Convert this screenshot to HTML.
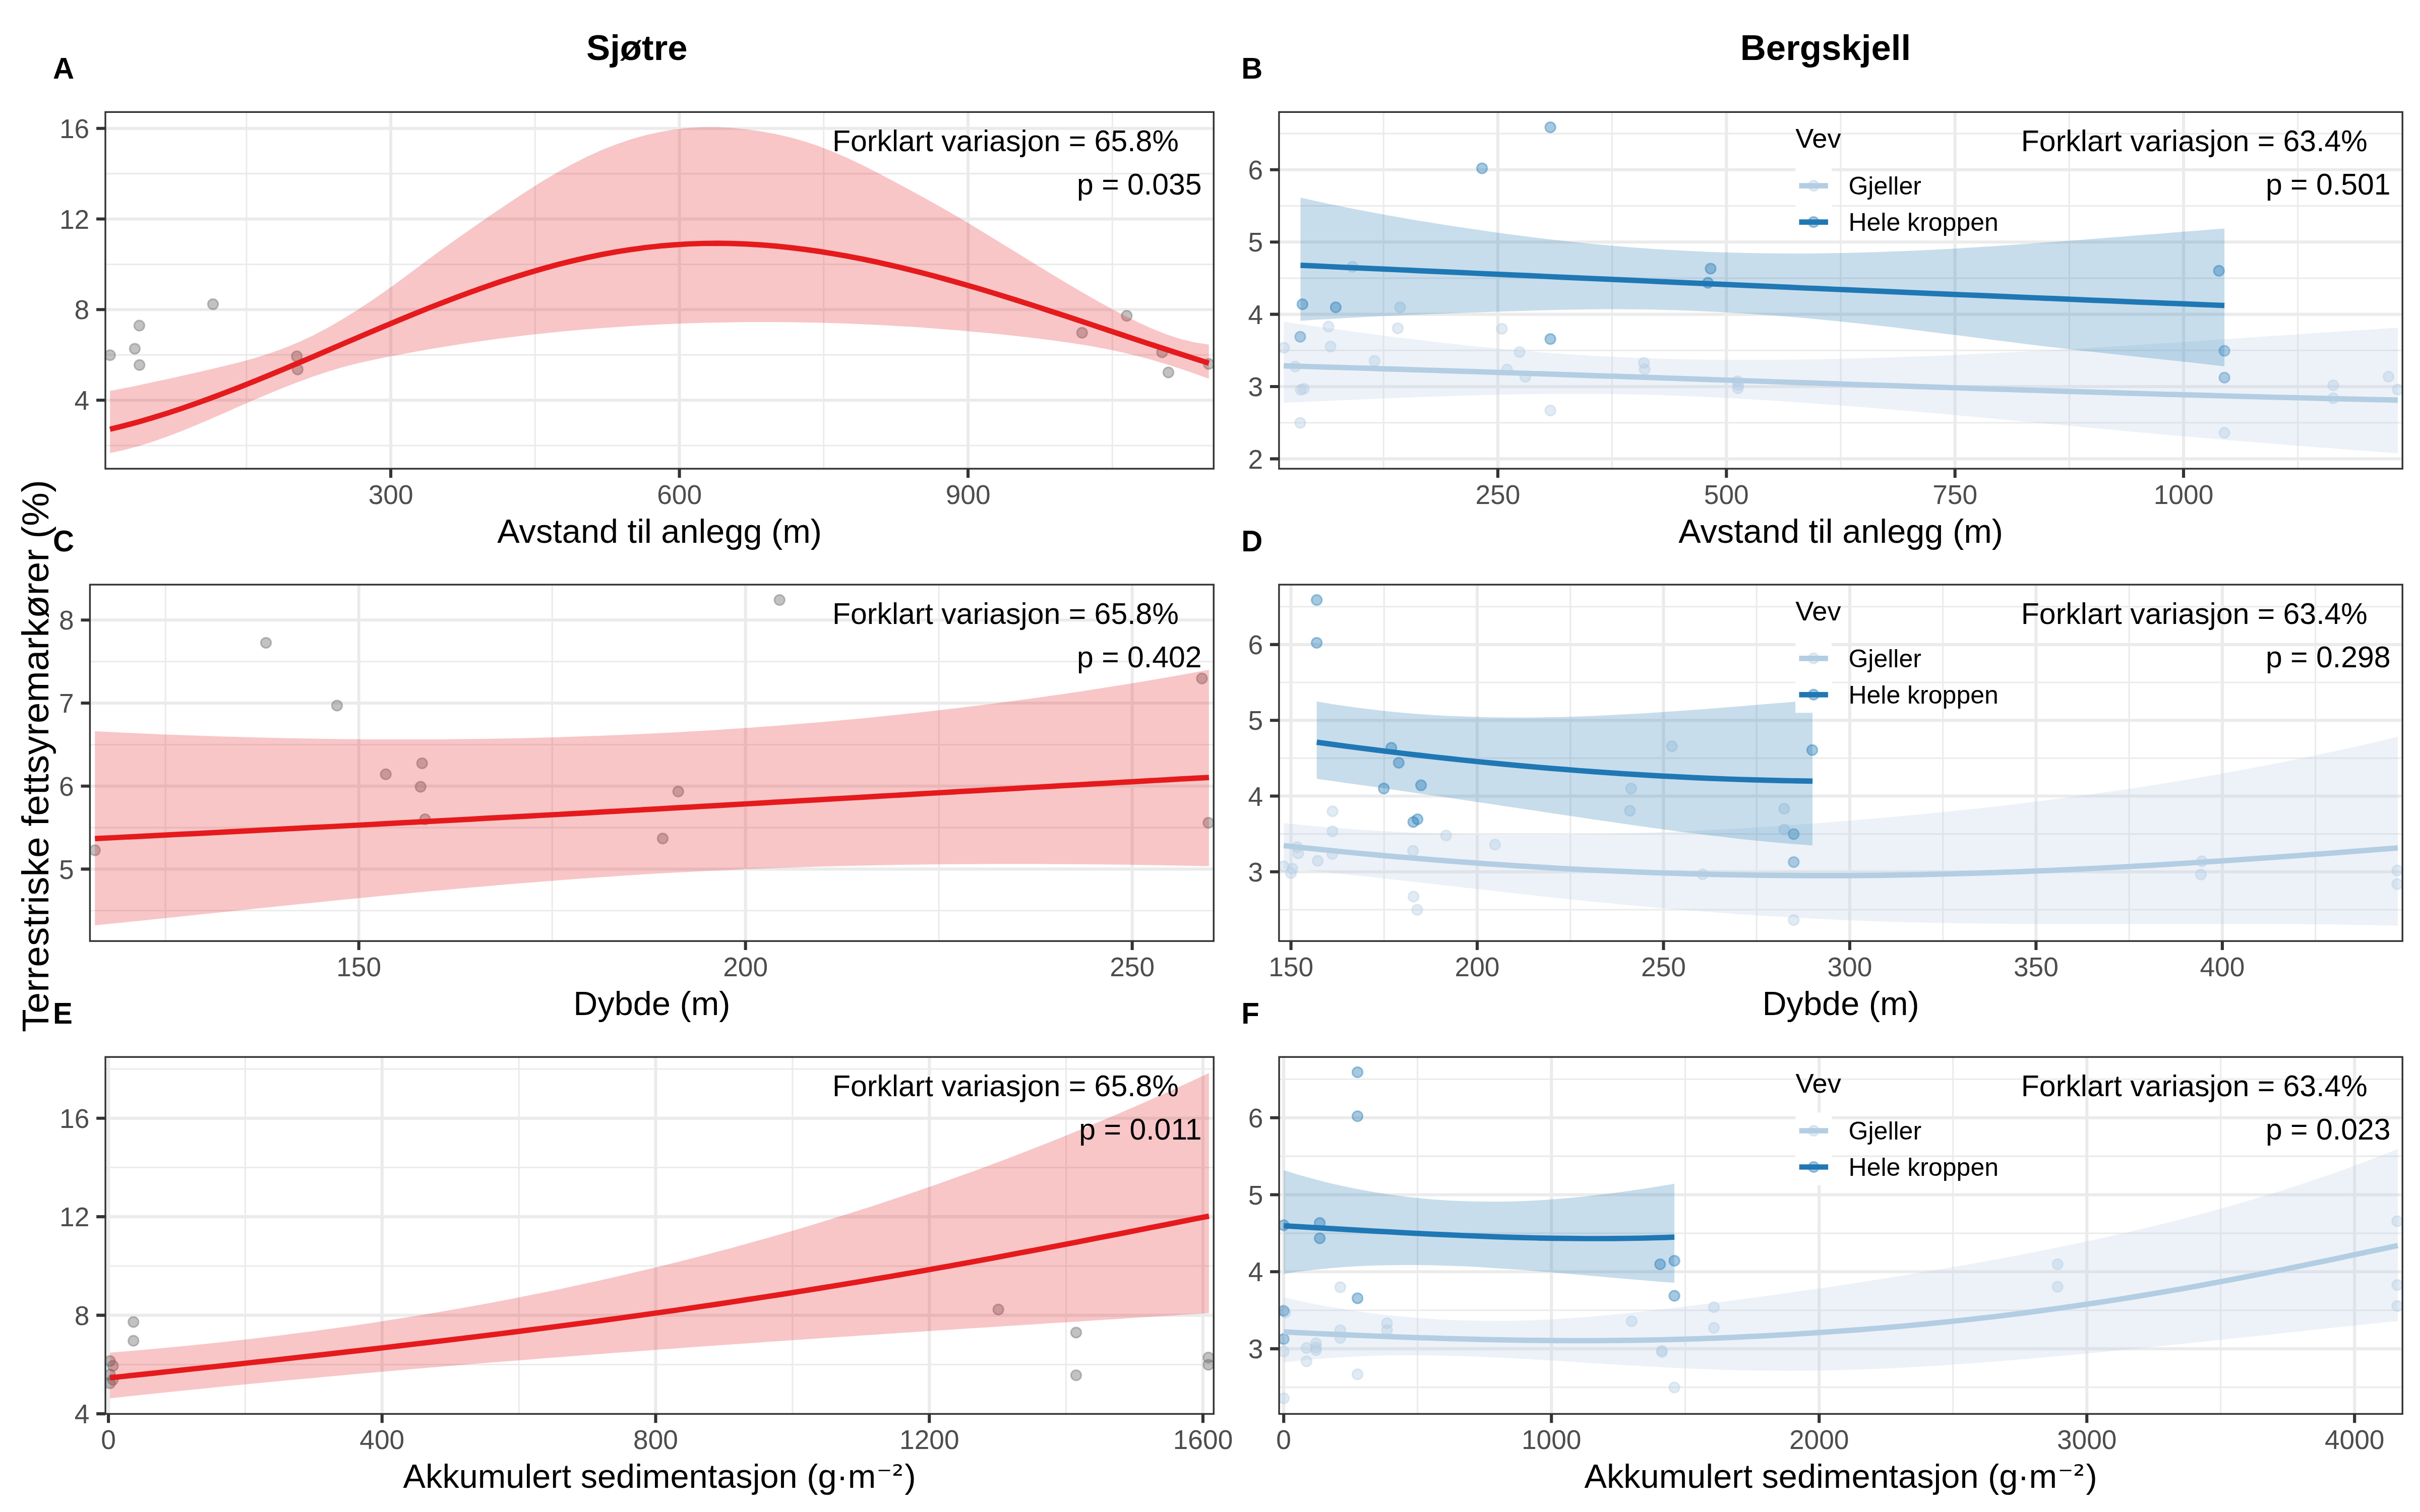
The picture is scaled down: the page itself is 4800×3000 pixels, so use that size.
<!DOCTYPE html>
<html lang="no"><head><meta charset="utf-8"><title>Terrestriske fettsyremarkører</title>
<style>html,body{margin:0;padding:0;background:#fff;width:4800px;height:3000px;overflow:hidden}svg{display:block}text{font-family:"Liberation Sans", sans-serif}
.tk{font-size:53.3px;fill:#4D4D4D}.ax{font-size:66.7px;fill:#000}.an{font-size:59.0px;fill:#000}.tg{font-size:58.3px;font-weight:bold;fill:#000}.ti{font-size:70.8px;font-weight:bold;fill:#000}.lt{font-size:54.2px;fill:#000}.le{font-size:50px;fill:#000}
</style></head><body>
<svg width="4800" height="3000" viewBox="0 0 4800 3000">
<rect width="4800" height="3000" fill="#fff"/>
<g id="panelA">
<clipPath id="cpA"><rect x="209" y="222.3" width="2198.3" height="707.7"/></clipPath>
<g clip-path="url(#cpA)">
<path d="M209 883.9H2407.3M209 704.1H2407.3M209 524.4H2407.3M209 344.6H2407.3M488.9 222.3V930M1061.3 222.3V930M1633.8 222.3V930M2206.3 222.3V930" stroke="#EBEBEB" stroke-width="3.05" fill="none"/>
<path d="M209 794H2407.3M209 614.2H2407.3M209 434.5H2407.3M209 254.7H2407.3M775.1 222.3V930M1347.6 222.3V930M1920.1 222.3V930" stroke="#EBEBEB" stroke-width="6.1" fill="none"/>
<g fill="#666666" stroke="#666666" fill-opacity="0.4" stroke-opacity="0.4" stroke-width="3.0">
<circle cx="218.2" cy="704.8" r="10.25"/><circle cx="267.4" cy="691.9" r="10.25"/><circle cx="276.4" cy="646" r="10.25"/><circle cx="276.7" cy="724.3" r="10.25"/><circle cx="422.5" cy="603.6" r="10.25"/><circle cx="588.8" cy="707.1" r="10.25"/><circle cx="590.4" cy="732.9" r="10.25"/><circle cx="2146.3" cy="660.3" r="10.25"/><circle cx="2234.9" cy="626.6" r="10.25"/><circle cx="2305" cy="699" r="10.25"/><circle cx="2317.5" cy="739" r="10.25"/><circle cx="2397.5" cy="722.1" r="10.25"/>
</g>
<path d="M218.2 775.7 L246.9 770.1 L275.6 764.2 L304.2 758.1 L332.9 751.9 L361.6 745.4 L390.3 738.9 L418.9 732.4 L447.6 725.6 L476.3 718.4 L505 710.4 L533.7 701.5 L562.3 691.3 L591 679.6 L619.7 666.2 L648.4 651.2 L677 634.8 L705.7 617.1 L734.4 598.2 L763.1 578.4 L791.8 557.7 L820.4 536.5 L849.1 515.1 L877.8 494.1 L906.5 473.5 L935.1 453.4 L963.8 433.6 L992.5 414 L1021.2 394.8 L1049.9 376 L1078.5 358 L1107.2 341 L1135.9 325.2 L1164.6 310.8 L1193.2 297.8 L1221.9 286.5 L1250.6 276.7 L1279.3 268.5 L1308 261.9 L1336.6 257.1 L1365.3 253.8 L1394 252.3 L1422.7 252.3 L1451.3 253.7 L1480 256.5 L1508.7 260.5 L1537.4 265.8 L1566 272.3 L1594.7 280.3 L1623.4 289.8 L1652.1 300.9 L1680.8 313.4 L1709.4 327.1 L1738.1 341.6 L1766.8 356.7 L1795.5 372.1 L1824.1 387.6 L1852.8 403.5 L1881.5 419.8 L1910.2 436.6 L1938.9 453.8 L1967.5 471.2 L1996.2 488.9 L2024.9 506.6 L2053.6 524.2 L2082.2 541.8 L2110.9 559 L2139.6 576 L2168.3 592.5 L2197 608.5 L2225.6 623.7 L2254.3 638.1 L2283 651.2 L2311.7 662.7 L2340.3 672.2 L2369 679.3 L2397.7 683.8 L2397.7 751.5 L2369 741.1 L2340.3 731.3 L2311.7 722 L2283 713.5 L2254.3 705.9 L2225.6 699.1 L2197 693 L2168.3 687.6 L2139.6 682.7 L2110.9 678.4 L2082.2 674.5 L2053.6 670.9 L2024.9 667.7 L1996.2 664.6 L1967.5 661.6 L1938.9 658.9 L1910.2 656.3 L1881.5 653.9 L1852.8 651.7 L1824.1 649.6 L1795.5 647.8 L1766.8 646.1 L1738.1 644.5 L1709.4 643.2 L1680.8 642 L1652.1 641.1 L1623.4 640.3 L1594.7 639.7 L1566 639.2 L1537.4 639 L1508.7 638.9 L1480 639.1 L1451.3 639.4 L1422.7 639.9 L1394 640.6 L1365.3 641.5 L1336.6 642.6 L1308 643.8 L1279.3 645.3 L1250.6 647 L1221.9 648.9 L1193.2 651 L1164.6 653.2 L1135.9 655.8 L1107.2 658.5 L1078.5 661.4 L1049.9 664.6 L1021.2 668 L992.5 671.6 L963.8 675.5 L935.1 679.6 L906.5 683.9 L877.8 688.5 L849.1 693.3 L820.4 698.4 L791.8 703.7 L763.1 709.3 L734.4 715.2 L705.7 721.8 L677 729.3 L648.4 737.9 L619.7 747.5 L591 758 L562.3 769.2 L533.7 780.9 L505 793.1 L476.3 805.6 L447.6 818.2 L418.9 830.7 L390.3 842.9 L361.6 854.7 L332.9 865.7 L304.2 875.9 L275.6 885 L246.9 892.8 L218.2 899Z" fill="#E41A1C" fill-opacity="0.25"/>
<path d="M218.2 851.6 L246.9 844.5 L275.6 836.8 L304.2 828.4 L332.9 819.5 L361.6 810 L390.3 800 L418.9 789.6 L447.6 778.8 L476.3 767.7 L505 756.2 L533.7 744.5 L562.3 732.6 L591 720.5 L619.7 708.3 L648.4 696 L677 683.7 L705.7 671.4 L734.4 659.1 L763.1 647 L791.8 635 L820.4 623.2 L849.1 611.6 L877.8 600.4 L906.5 589.5 L935.1 578.9 L963.8 568.7 L992.5 558.9 L1021.2 549.6 L1049.9 540.8 L1078.5 532.5 L1107.2 524.7 L1135.9 517.5 L1164.6 511 L1193.2 505 L1221.9 499.8 L1250.6 495.2 L1279.3 491.3 L1308 488.2 L1336.6 485.8 L1365.3 484 L1394 483 L1422.7 482.7 L1451.3 483.1 L1480 484.1 L1508.7 485.8 L1537.4 488.1 L1566 491.1 L1594.7 494.6 L1623.4 498.6 L1652.1 503.2 L1680.8 508.3 L1709.4 513.8 L1738.1 519.8 L1766.8 526.2 L1795.5 533 L1824.1 540.1 L1852.8 547.6 L1881.5 555.5 L1910.2 563.6 L1938.9 571.9 L1967.5 580.5 L1996.2 589.4 L2024.9 598.4 L2053.6 607.5 L2082.2 616.8 L2110.9 626.2 L2139.6 635.7 L2168.3 645.3 L2197 654.8 L2225.6 664.4 L2254.3 674 L2283 683.5 L2311.7 692.9 L2340.3 702.2 L2369 711.4 L2397.7 720.5" fill="none" stroke="#E41A1C" stroke-width="10.7" stroke-linejoin="round"/>
<text class="an" x="1650.9" y="300.2">Forklart variasjon = 65.8%</text>
<text class="an" text-anchor="end" x="2383.7" y="386">p = 0.035</text>
</g>
<rect x="209" y="222.3" width="2198.3" height="707.7" fill="none" stroke="#333333" stroke-width="3.4"/>
<path d="M209 794H191.1M209 614.2H191.1M209 434.5H191.1M209 254.7H191.1M775.1 930V947.9M1347.6 930V947.9M1920.1 930V947.9" stroke="#333333" stroke-width="6.1" fill="none"/>
<g class="tk" text-anchor="end"><text x="177.2" y="813.1">4</text><text x="177.2" y="633.3">8</text><text x="177.2" y="453.6">12</text><text x="177.2" y="273.8">16</text></g>
<g class="tk" text-anchor="middle"><text x="775.1" y="999.6">300</text><text x="1347.6" y="999.6">600</text><text x="1920.1" y="999.6">900</text></g>
<text class="ax" text-anchor="middle" x="1308.2" y="1077">Avstand til anlegg (m)</text>
<text class="tg" x="105" y="155.8">A</text>
</g>
<g id="panelB">
<clipPath id="cpB"><rect x="2536.9" y="222.3" width="2228.3" height="707.7"/></clipPath>
<g clip-path="url(#cpB)">
<path d="M2536.9 838.7H4765.2M2536.9 695.3H4765.2M2536.9 551.9H4765.2M2536.9 408.5H4765.2M2536.9 265.1H4765.2M2744.2 222.3V930M3197.6 222.3V930M3651 222.3V930M4104.3 222.3V930M4557.7 222.3V930" stroke="#EBEBEB" stroke-width="3.05" fill="none"/>
<path d="M2536.9 910.4H4765.2M2536.9 767H4765.2M2536.9 623.6H4765.2M2536.9 480.2H4765.2M2536.9 336.8H4765.2M2970.9 222.3V930M3424.3 222.3V930M3877.7 222.3V930M4331 222.3V930" stroke="#EBEBEB" stroke-width="6.1" fill="none"/>
<g fill="#B3CDE3" stroke="#B3CDE3" fill-opacity="0.4" stroke-opacity="0.4" stroke-width="3.0">
<circle cx="2682.7" cy="529.4" r="10.25"/><circle cx="2776.9" cy="609.8" r="10.25"/><circle cx="2635" cy="648" r="10.25"/><circle cx="2772.5" cy="651.4" r="10.25"/><circle cx="2978.8" cy="652.4" r="10.25"/><circle cx="2546.7" cy="690.1" r="10.25"/><circle cx="2639" cy="687.6" r="10.25"/><circle cx="2726.3" cy="715.9" r="10.25"/><circle cx="3014" cy="698.6" r="10.25"/><circle cx="2569.1" cy="727.3" r="10.25"/><circle cx="2989.2" cy="733.3" r="10.25"/><circle cx="3025.5" cy="747.7" r="10.25"/><circle cx="3260.6" cy="719.9" r="10.25"/><circle cx="3262.1" cy="732.8" r="10.25"/><circle cx="2580" cy="773.5" r="10.25"/><circle cx="2585.9" cy="771.5" r="10.25"/><circle cx="3446.1" cy="756.6" r="10.25"/><circle cx="3448.1" cy="764" r="10.25"/><circle cx="3447.1" cy="770.5" r="10.25"/><circle cx="3075.1" cy="814.6" r="10.25"/><circle cx="2579" cy="839" r="10.25"/><circle cx="4412.1" cy="858.8" r="10.25"/><circle cx="4627.9" cy="764.5" r="10.25"/><circle cx="4627.9" cy="790.3" r="10.25"/><circle cx="4737.5" cy="747.2" r="10.25"/><circle cx="4755.9" cy="773" r="10.25"/>
</g>
<g fill="#1F78B4" stroke="#1F78B4" fill-opacity="0.4" stroke-opacity="0.4" stroke-width="3.0">
<circle cx="3075.1" cy="252.6" r="10.25"/><circle cx="2939.6" cy="333.9" r="10.25"/><circle cx="2583.4" cy="603.8" r="10.25"/><circle cx="2649.4" cy="609.8" r="10.25"/><circle cx="2579" cy="668.3" r="10.25"/><circle cx="3075.1" cy="672.8" r="10.25"/><circle cx="3393" cy="532.9" r="10.25"/><circle cx="3387.6" cy="561.1" r="10.25"/><circle cx="4401.2" cy="537.3" r="10.25"/><circle cx="4412.1" cy="696.1" r="10.25"/><circle cx="4412.1" cy="749.2" r="10.25"/>
</g>
<path d="M2546.2 638.4 L2574.9 642.6 L2603.6 646.7 L2632.3 650.7 L2661 654.7 L2689.7 658.6 L2718.4 662.5 L2747.1 666.2 L2775.8 669.9 L2804.5 673.4 L2833.2 676.8 L2861.9 680.1 L2890.6 683.3 L2919.3 686.4 L2948 689.3 L2976.7 692 L3005.4 694.6 L3034.1 697.1 L3062.8 699.4 L3091.5 701.5 L3120.1 703.4 L3148.8 705.2 L3177.5 706.9 L3206.2 708.3 L3234.9 709.6 L3263.6 710.7 L3292.3 711.6 L3321 712.4 L3349.7 713 L3378.4 713.5 L3407.1 713.8 L3435.8 714 L3464.5 714.1 L3493.2 714.1 L3521.9 713.9 L3550.6 713.6 L3579.3 713.3 L3608 712.8 L3636.7 712.2 L3665.4 711.5 L3694.1 710.8 L3722.8 710 L3751.5 709.1 L3780.2 708.1 L3808.9 707 L3837.6 705.9 L3866.3 704.7 L3895 703.4 L3923.7 702.1 L3952.4 700.7 L3981.1 699.3 L4009.8 697.8 L4038.5 696.3 L4067.2 694.7 L4095.9 693.1 L4124.6 691.4 L4153.3 689.7 L4182 688 L4210.6 686.2 L4239.3 684.4 L4268 682.6 L4296.7 680.7 L4325.4 678.8 L4354.1 676.9 L4382.8 675 L4411.5 673.1 L4440.2 671.2 L4468.9 669.3 L4497.6 667.3 L4526.3 665.4 L4555 663.5 L4583.7 661.5 L4612.4 659.6 L4641.1 657.7 L4669.8 655.8 L4698.5 654 L4727.2 652.1 L4755.9 650.3 L4755.9 899.4 L4727.2 897.3 L4698.5 895.1 L4669.8 893 L4641.1 890.8 L4612.4 888.6 L4583.7 886.4 L4555 884.2 L4526.3 881.9 L4497.6 879.6 L4468.9 877.3 L4440.2 874.9 L4411.5 872.5 L4382.8 870.1 L4354.1 867.6 L4325.4 865.1 L4296.7 862.6 L4268 860 L4239.3 857.4 L4210.6 854.7 L4182 852.1 L4153.3 849.4 L4124.6 846.7 L4095.9 844 L4067.2 841.3 L4038.5 838.6 L4009.8 835.9 L3981.1 833.2 L3952.4 830.5 L3923.7 827.8 L3895 825.2 L3866.3 822.6 L3837.6 820 L3808.9 817.5 L3780.2 815 L3751.5 812.6 L3722.8 810.2 L3694.1 807.8 L3665.4 805.6 L3636.7 803.4 L3608 801.2 L3579.3 799.2 L3550.6 797.2 L3521.9 795.3 L3493.2 793.5 L3464.5 791.8 L3435.8 790.2 L3407.1 788.8 L3378.4 787.4 L3349.7 786.2 L3321 785.1 L3292.3 784.1 L3263.6 783.3 L3234.9 782.6 L3206.2 782.1 L3177.5 781.8 L3148.8 781.5 L3120.1 781.5 L3091.5 781.6 L3062.8 781.8 L3034.1 782.1 L3005.4 782.6 L2976.7 783.1 L2948 783.8 L2919.3 784.5 L2890.6 785.4 L2861.9 786.3 L2833.2 787.3 L2804.5 788.3 L2775.8 789.4 L2747.1 790.6 L2718.4 791.8 L2689.7 793 L2661 794.2 L2632.3 795.5 L2603.6 796.7 L2574.9 798 L2546.2 799.3Z" fill="#B3CDE3" fill-opacity="0.25"/>
<path d="M2579.5 392.3 L2608.1 398.6 L2636.8 404.7 L2665.4 410.5 L2694 416.2 L2722.7 421.6 L2751.3 426.9 L2779.9 432 L2808.6 436.9 L2837.2 441.6 L2865.8 446.2 L2894.5 450.6 L2923.1 454.8 L2951.7 459 L2980.4 462.9 L3009 466.7 L3037.7 470.4 L3066.3 473.9 L3094.9 477.3 L3123.6 480.4 L3152.2 483.4 L3180.8 486.1 L3209.5 488.6 L3238.1 491 L3266.7 493.1 L3295.4 495 L3324 496.6 L3352.6 498.1 L3381.3 499.4 L3409.9 500.5 L3438.5 501.3 L3467.2 502 L3495.8 502.5 L3524.4 502.8 L3553.1 503 L3581.7 502.9 L3610.3 502.7 L3639 502.3 L3667.6 501.8 L3696.2 501 L3724.9 500.1 L3753.5 499.1 L3782.1 498 L3810.8 496.7 L3839.4 495.2 L3868 493.7 L3896.7 492.1 L3925.3 490.3 L3954 488.5 L3982.6 486.6 L4011.2 484.6 L4039.9 482.5 L4068.5 480.4 L4097.1 478.3 L4125.8 476.1 L4154.4 473.8 L4183 471.6 L4211.7 469.3 L4240.3 467 L4268.9 464.7 L4297.6 462.4 L4326.2 460.1 L4354.8 457.9 L4383.5 455.6 L4412.1 453.5 L4412.1 727 L4383.5 723.6 L4354.8 720.3 L4326.2 717.1 L4297.6 714 L4268.9 710.9 L4240.3 707.9 L4211.7 704.8 L4183 701.7 L4154.4 698.6 L4125.8 695.4 L4097.1 692.1 L4068.5 688.7 L4039.9 685.2 L4011.2 681.7 L3982.6 678.1 L3954 674.4 L3925.3 670.8 L3896.7 667.1 L3868 663.5 L3839.4 659.9 L3810.8 656.3 L3782.1 652.8 L3753.5 649.3 L3724.9 646 L3696.2 642.8 L3667.6 639.7 L3639 636.7 L3610.3 633.9 L3581.7 631.3 L3553.1 628.8 L3524.4 626.5 L3495.8 624.4 L3467.2 622.5 L3438.5 620.7 L3409.9 619.1 L3381.3 617.7 L3352.6 616.5 L3324 615.5 L3295.4 614.7 L3266.7 614.1 L3238.1 613.7 L3209.5 613.5 L3180.8 613.6 L3152.2 613.8 L3123.6 614.2 L3094.9 614.8 L3066.3 615.5 L3037.7 616.3 L3009 617.2 L2980.4 618.1 L2951.7 619.1 L2923.1 620.1 L2894.5 621.1 L2865.8 622.2 L2837.2 623.3 L2808.6 624.5 L2779.9 625.7 L2751.3 627 L2722.7 628.3 L2694 629.8 L2665.4 631.3 L2636.8 632.9 L2608.1 634.6 L2579.5 636.4Z" fill="#1F78B4" fill-opacity="0.25"/>
<path d="M2546.2 725.8 L2574.9 726.6 L2603.6 727.5 L2632.3 728.3 L2661 729.2 L2689.7 730 L2718.4 730.9 L2747.1 731.8 L2775.8 732.7 L2804.5 733.6 L2833.2 734.5 L2861.9 735.4 L2890.6 736.3 L2919.3 737.2 L2948 738.2 L2976.7 739.1 L3005.4 740 L3034.1 741 L3062.8 741.9 L3091.5 742.9 L3120.1 743.8 L3148.8 744.8 L3177.5 745.8 L3206.2 746.7 L3234.9 747.7 L3263.6 748.7 L3292.3 749.7 L3321 750.6 L3349.7 751.6 L3378.4 752.6 L3407.1 753.6 L3435.8 754.5 L3464.5 755.5 L3493.2 756.5 L3521.9 757.5 L3550.6 758.5 L3579.3 759.4 L3608 760.4 L3636.7 761.4 L3665.4 762.3 L3694.1 763.3 L3722.8 764.3 L3751.5 765.2 L3780.2 766.2 L3808.9 767.1 L3837.6 768.1 L3866.3 769 L3895 770 L3923.7 770.9 L3952.4 771.8 L3981.1 772.7 L4009.8 773.6 L4038.5 774.5 L4067.2 775.4 L4095.9 776.3 L4124.6 777.2 L4153.3 778.1 L4182 778.9 L4210.6 779.8 L4239.3 780.6 L4268 781.5 L4296.7 782.3 L4325.4 783.1 L4354.1 783.9 L4382.8 784.7 L4411.5 785.5 L4440.2 786.3 L4468.9 787 L4497.6 787.8 L4526.3 788.5 L4555 789.2 L4583.7 789.9 L4612.4 790.6 L4641.1 791.3 L4669.8 791.9 L4698.5 792.6 L4727.2 793.2 L4755.9 793.8" fill="none" stroke="#B3CDE3" stroke-width="10.7" stroke-linejoin="round"/>
<path d="M2579.5 526.4 L2608.1 527.7 L2636.8 529 L2665.4 530.3 L2694 531.6 L2722.7 532.9 L2751.3 534.2 L2779.9 535.5 L2808.6 536.8 L2837.2 538.1 L2865.8 539.4 L2894.5 540.7 L2923.1 542 L2951.7 543.3 L2980.4 544.6 L3009 545.9 L3037.7 547.2 L3066.3 548.5 L3094.9 549.8 L3123.6 551.1 L3152.2 552.4 L3180.8 553.7 L3209.5 554.9 L3238.1 556.2 L3266.7 557.5 L3295.4 558.8 L3324 560.1 L3352.6 561.3 L3381.3 562.6 L3409.9 563.9 L3438.5 565.2 L3467.2 566.4 L3495.8 567.7 L3524.4 568.9 L3553.1 570.2 L3581.7 571.5 L3610.3 572.7 L3639 574 L3667.6 575.2 L3696.2 576.4 L3724.9 577.7 L3753.5 578.9 L3782.1 580.1 L3810.8 581.4 L3839.4 582.6 L3868 583.8 L3896.7 585 L3925.3 586.2 L3954 587.4 L3982.6 588.6 L4011.2 589.8 L4039.9 591 L4068.5 592.2 L4097.1 593.4 L4125.8 594.6 L4154.4 595.8 L4183 596.9 L4211.7 598.1 L4240.3 599.3 L4268.9 600.4 L4297.6 601.6 L4326.2 602.7 L4354.8 603.9 L4383.5 605 L4412.1 606.1" fill="none" stroke="#1F78B4" stroke-width="10.7" stroke-linejoin="round"/>
<rect x="3561.2" y="332.6" width="72" height="144" fill="#fff"/>
<circle cx="3597.2" cy="368.6" r="10.25" fill="#B3CDE3" stroke="#B3CDE3" fill-opacity="0.4" stroke-opacity="0.4" stroke-width="3.0"/>
<path d="M3568.5 368.6H3625.9" stroke="#B3CDE3" stroke-width="10.7"/>
<text class="le" x="3666.4" y="386.4">Gjeller</text>
<circle cx="3597.2" cy="440.6" r="10.25" fill="#1F78B4" stroke="#1F78B4" fill-opacity="0.4" stroke-opacity="0.4" stroke-width="3.0"/>
<path d="M3568.5 440.6H3625.9" stroke="#1F78B4" stroke-width="10.7"/>
<text class="le" x="3666.4" y="458.4">Hele kroppen</text>
<text class="lt" x="3561.2" y="293.3">Vev</text>
<text class="an" x="4008.8" y="300.2">Forklart variasjon = 63.4%</text>
<text class="an" text-anchor="end" x="4741.6" y="386">p = 0.501</text>
</g>
<rect x="2536.9" y="222.3" width="2228.3" height="707.7" fill="none" stroke="#333333" stroke-width="3.4"/>
<path d="M2536.9 910.4H2519M2536.9 767H2519M2536.9 623.6H2519M2536.9 480.2H2519M2536.9 336.8H2519M2970.9 930V947.9M3424.3 930V947.9M3877.7 930V947.9M4331 930V947.9" stroke="#333333" stroke-width="6.1" fill="none"/>
<g class="tk" text-anchor="end"><text x="2505.1" y="929.5">2</text><text x="2505.1" y="786.1">3</text><text x="2505.1" y="642.7">4</text><text x="2505.1" y="499.3">5</text><text x="2505.1" y="355.9">6</text></g>
<g class="tk" text-anchor="middle"><text x="2970.9" y="999.6">250</text><text x="3424.3" y="999.6">500</text><text x="3877.7" y="999.6">750</text><text x="4331" y="999.6">1000</text></g>
<text class="ax" text-anchor="middle" x="3651.1" y="1077">Avstand til anlegg (m)</text>
<text class="tg" x="2462.2" y="155.8">B</text>
</g>
<g id="panelC">
<clipPath id="cpC"><rect x="178.4" y="1160" width="2228.9" height="707.2"/></clipPath>
<g clip-path="url(#cpC)">
<path d="M178.4 1806.8H2407.3M178.4 1642.1H2407.3M178.4 1477.4H2407.3M178.4 1312.7H2407.3M328.2 1160V1867.2M1095.2 1160V1867.2M1862.2 1160V1867.2" stroke="#EBEBEB" stroke-width="3.05" fill="none"/>
<path d="M178.4 1724.4H2407.3M178.4 1559.7H2407.3M178.4 1395H2407.3M178.4 1230.3H2407.3M711.7 1160V1867.2M1478.7 1160V1867.2M2245.7 1160V1867.2" stroke="#EBEBEB" stroke-width="6.1" fill="none"/>
<g fill="#666666" stroke="#666666" fill-opacity="0.4" stroke-opacity="0.4" stroke-width="3.0">
<circle cx="188.3" cy="1687.1" r="10.25"/><circle cx="527.6" cy="1275.4" r="10.25"/><circle cx="668.5" cy="1399.9" r="10.25"/><circle cx="765.2" cy="1536.3" r="10.25"/><circle cx="837.2" cy="1514.5" r="10.25"/><circle cx="834.2" cy="1561.1" r="10.25"/><circle cx="843.1" cy="1625.6" r="10.25"/><circle cx="1546.2" cy="1190.5" r="10.25"/><circle cx="1345.2" cy="1570.5" r="10.25"/><circle cx="1314.5" cy="1663.8" r="10.25"/><circle cx="2384" cy="1346.3" r="10.25"/><circle cx="2396.9" cy="1632.5" r="10.25"/>
</g>
<path d="M188.3 1450.9 L217 1452.3 L245.7 1453.7 L274.4 1455 L303.1 1456.2 L331.8 1457.4 L360.5 1458.5 L389.2 1459.6 L417.9 1460.6 L446.6 1461.5 L475.3 1462.3 L504 1463.1 L532.7 1463.8 L561.3 1464.5 L590 1465.1 L618.7 1465.6 L647.4 1466 L676.1 1466.4 L704.8 1466.7 L733.5 1466.9 L762.2 1467 L790.9 1467.1 L819.6 1467.1 L848.3 1467 L877 1466.9 L905.7 1466.6 L934.4 1466.3 L963.1 1465.9 L991.8 1465.4 L1020.5 1464.9 L1049.2 1464.2 L1077.9 1463.5 L1106.6 1462.7 L1135.3 1461.8 L1164 1460.8 L1192.7 1459.8 L1221.4 1458.6 L1250.1 1457.4 L1278.8 1456.1 L1307.4 1454.7 L1336.1 1453.2 L1364.8 1451.6 L1393.5 1449.9 L1422.2 1448.2 L1450.9 1446.3 L1479.6 1444.4 L1508.3 1442.3 L1537 1440.2 L1565.7 1438 L1594.4 1435.6 L1623.1 1433.2 L1651.8 1430.7 L1680.5 1428.1 L1709.2 1425.4 L1737.9 1422.6 L1766.6 1419.6 L1795.3 1416.6 L1824 1413.5 L1852.7 1410.3 L1881.4 1407 L1910.1 1403.6 L1938.8 1400 L1967.5 1396.4 L1996.2 1392.7 L2024.9 1388.8 L2053.5 1384.9 L2082.2 1380.8 L2110.9 1376.7 L2139.6 1372.4 L2168.3 1368 L2197 1363.5 L2225.7 1358.9 L2254.4 1354.2 L2283.1 1349.4 L2311.8 1344.4 L2340.5 1339.4 L2369.2 1334.2 L2397.9 1328.9 L2397.9 1718.5 L2369.2 1717.9 L2340.5 1717.4 L2311.8 1716.9 L2283.1 1716.4 L2254.4 1716 L2225.7 1715.6 L2197 1715.2 L2168.3 1715 L2139.6 1714.7 L2110.9 1714.5 L2082.2 1714.4 L2053.5 1714.3 L2024.9 1714.2 L1996.2 1714.2 L1967.5 1714.3 L1938.8 1714.4 L1910.1 1714.6 L1881.4 1714.8 L1852.7 1715.1 L1824 1715.4 L1795.3 1715.8 L1766.6 1716.3 L1737.9 1716.8 L1709.2 1717.4 L1680.5 1718.1 L1651.8 1718.8 L1623.1 1719.6 L1594.4 1720.5 L1565.7 1721.4 L1537 1722.4 L1508.3 1723.5 L1479.6 1724.6 L1450.9 1725.9 L1422.2 1727.2 L1393.5 1728.5 L1364.8 1730 L1336.1 1731.5 L1307.4 1733.1 L1278.8 1734.8 L1250.1 1736.6 L1221.4 1738.5 L1192.7 1740.4 L1164 1742.4 L1135.3 1744.5 L1106.6 1746.7 L1077.9 1748.9 L1049.2 1751.2 L1020.5 1753.5 L991.8 1756 L963.1 1758.4 L934.4 1761 L905.7 1763.5 L877 1766.2 L848.3 1768.8 L819.6 1771.5 L790.9 1774.3 L762.2 1777.1 L733.5 1779.9 L704.8 1782.7 L676.1 1785.6 L647.4 1788.5 L618.7 1791.4 L590 1794.3 L561.3 1797.3 L532.7 1800.2 L504 1803.2 L475.3 1806.2 L446.6 1809.2 L417.9 1812.2 L389.2 1815.2 L360.5 1818.2 L331.8 1821.2 L303.1 1824.2 L274.4 1827.2 L245.7 1830.2 L217 1833.1 L188.3 1836.1Z" fill="#E41A1C" fill-opacity="0.25"/>
<path d="M188.3 1663.9 L217 1662.5 L245.7 1661 L274.4 1659.6 L303.1 1658.1 L331.8 1656.7 L360.5 1655.2 L389.2 1653.8 L417.9 1652.3 L446.6 1650.8 L475.3 1649.4 L504 1647.9 L532.7 1646.4 L561.3 1644.9 L590 1643.4 L618.7 1641.9 L647.4 1640.5 L676.1 1639 L704.8 1637.5 L733.5 1636 L762.2 1634.4 L790.9 1632.9 L819.6 1631.4 L848.3 1629.9 L877 1628.4 L905.7 1626.8 L934.4 1625.3 L963.1 1623.7 L991.8 1622.2 L1020.5 1620.6 L1049.2 1619.1 L1077.9 1617.5 L1106.6 1616 L1135.3 1614.4 L1164 1612.8 L1192.7 1611.2 L1221.4 1609.6 L1250.1 1608 L1278.8 1606.4 L1307.4 1604.8 L1336.1 1603.2 L1364.8 1601.6 L1393.5 1599.9 L1422.2 1598.3 L1450.9 1596.7 L1479.6 1595 L1508.3 1593.4 L1537 1591.7 L1565.7 1590.1 L1594.4 1588.4 L1623.1 1586.8 L1651.8 1585.1 L1680.5 1583.5 L1709.2 1581.8 L1737.9 1580.2 L1766.6 1578.5 L1795.3 1576.9 L1824 1575.2 L1852.7 1573.5 L1881.4 1571.9 L1910.1 1570.2 L1938.8 1568.6 L1967.5 1566.9 L1996.2 1565.3 L2024.9 1563.6 L2053.5 1562 L2082.2 1560.3 L2110.9 1558.7 L2139.6 1557.1 L2168.3 1555.4 L2197 1553.8 L2225.7 1552.2 L2254.4 1550.6 L2283.1 1548.9 L2311.8 1547.3 L2340.5 1545.7 L2369.2 1544.2 L2397.9 1542.6" fill="none" stroke="#E41A1C" stroke-width="10.7" stroke-linejoin="round"/>
<text class="an" x="1650.9" y="1237.9">Forklart variasjon = 65.8%</text>
<text class="an" text-anchor="end" x="2383.7" y="1323.7">p = 0.402</text>
</g>
<rect x="178.4" y="1160" width="2228.9" height="707.2" fill="none" stroke="#333333" stroke-width="3.4"/>
<path d="M178.4 1724.4H160.5M178.4 1559.7H160.5M178.4 1395H160.5M178.4 1230.3H160.5M711.7 1867.2V1885.1M1478.7 1867.2V1885.1M2245.7 1867.2V1885.1" stroke="#333333" stroke-width="6.1" fill="none"/>
<g class="tk" text-anchor="end"><text x="146.6" y="1743.5">5</text><text x="146.6" y="1578.8">6</text><text x="146.6" y="1414.1">7</text><text x="146.6" y="1249.4">8</text></g>
<g class="tk" text-anchor="middle"><text x="711.7" y="1936.8">150</text><text x="1478.7" y="1936.8">200</text><text x="2245.7" y="1936.8">250</text></g>
<text class="ax" text-anchor="middle" x="1292.9" y="2014.2">Dybde (m)</text>
<text class="tg" x="105" y="1093.5">C</text>
</g>
<g id="panelD">
<clipPath id="cpD"><rect x="2536.9" y="1160" width="2228.3" height="707.2"/></clipPath>
<g clip-path="url(#cpD)">
<path d="M2536.9 1805H4765.2M2536.9 1654.6H4765.2M2536.9 1504.3H4765.2M2536.9 1354H4765.2M2536.9 1203.8H4765.2M2745.3 1160V1867.2M3114.8 1160V1867.2M3484.2 1160V1867.2M3853.7 1160V1867.2M4223.1 1160V1867.2M4592.6 1160V1867.2" stroke="#EBEBEB" stroke-width="3.05" fill="none"/>
<path d="M2536.9 1729.8H4765.2M2536.9 1579.5H4765.2M2536.9 1429.2H4765.2M2536.9 1278.9H4765.2M2560.6 1160V1867.2M2930 1160V1867.2M3299.5 1160V1867.2M3668.9 1160V1867.2M4038.4 1160V1867.2M4407.9 1160V1867.2" stroke="#EBEBEB" stroke-width="6.1" fill="none"/>
<g fill="#B3CDE3" stroke="#B3CDE3" fill-opacity="0.4" stroke-opacity="0.4" stroke-width="3.0">
<circle cx="3316.2" cy="1480.7" r="10.25"/><circle cx="3235.3" cy="1564.6" r="10.25"/><circle cx="3232.8" cy="1608.7" r="10.25"/><circle cx="3538.9" cy="1604.7" r="10.25"/><circle cx="3538.9" cy="1645.9" r="10.25"/><circle cx="2643" cy="1609.7" r="10.25"/><circle cx="2643" cy="1649.4" r="10.25"/><circle cx="2868.2" cy="1657.8" r="10.25"/><circle cx="2965.4" cy="1675.7" r="10.25"/><circle cx="2802.7" cy="1688.1" r="10.25"/><circle cx="2573" cy="1680.7" r="10.25"/><circle cx="2575" cy="1693.1" r="10.25"/><circle cx="2642.5" cy="1694.5" r="10.25"/><circle cx="2613.7" cy="1707.9" r="10.25"/><circle cx="2546.2" cy="1718.8" r="10.25"/><circle cx="2563.6" cy="1723.8" r="10.25"/><circle cx="2560.6" cy="1732.2" r="10.25"/><circle cx="3377.2" cy="1734.7" r="10.25"/><circle cx="2803.7" cy="1778.9" r="10.25"/><circle cx="2811.1" cy="1805.2" r="10.25"/><circle cx="3557.8" cy="1825.5" r="10.25"/><circle cx="4367.4" cy="1708.9" r="10.25"/><circle cx="4365.4" cy="1735.2" r="10.25"/><circle cx="4754.9" cy="1727.3" r="10.25"/><circle cx="4754.9" cy="1754.1" r="10.25"/>
</g>
<g fill="#1F78B4" stroke="#1F78B4" fill-opacity="0.4" stroke-opacity="0.4" stroke-width="3.0">
<circle cx="2611.7" cy="1190.5" r="10.25"/><circle cx="2611.7" cy="1275.4" r="10.25"/><circle cx="2759.6" cy="1483.7" r="10.25"/><circle cx="2774.4" cy="1513.5" r="10.25"/><circle cx="2744.7" cy="1564.6" r="10.25"/><circle cx="2818.6" cy="1558.1" r="10.25"/><circle cx="2811.6" cy="1625.6" r="10.25"/><circle cx="2803.2" cy="1631" r="10.25"/><circle cx="3594.5" cy="1488.2" r="10.25"/><circle cx="3557.8" cy="1654.9" r="10.25"/><circle cx="3557.8" cy="1710.4" r="10.25"/>
</g>
<path d="M2546.2 1632.9 L2574.9 1635.9 L2603.6 1638.7 L2632.3 1641.2 L2661 1643.6 L2689.7 1645.7 L2718.4 1647.6 L2747.1 1649.3 L2775.8 1650.8 L2804.5 1652.2 L2833.2 1653.3 L2861.9 1654.3 L2890.6 1655.1 L2919.3 1655.8 L2948 1656.3 L2976.7 1656.6 L3005.4 1656.8 L3034.1 1656.8 L3062.8 1656.7 L3091.5 1656.5 L3120.1 1656.1 L3148.8 1655.6 L3177.5 1655 L3206.2 1654.3 L3234.9 1653.5 L3263.6 1652.5 L3292.3 1651.5 L3321 1650.3 L3349.7 1649 L3378.4 1647.6 L3407.1 1646.1 L3435.8 1644.6 L3464.5 1642.9 L3493.2 1641.1 L3521.9 1639.2 L3550.6 1637.2 L3579.3 1635.2 L3608 1633.1 L3636.7 1630.8 L3665.4 1628.5 L3694.1 1626.1 L3722.8 1623.7 L3751.5 1621.1 L3780.2 1618.5 L3808.9 1615.7 L3837.6 1612.9 L3866.3 1610 L3895 1607 L3923.7 1603.9 L3952.4 1600.7 L3981.1 1597.4 L4009.8 1594 L4038.5 1590.5 L4067.2 1586.8 L4095.9 1583.1 L4124.6 1579.3 L4153.3 1575.3 L4182 1571.2 L4210.6 1567 L4239.3 1562.7 L4268 1558.3 L4296.7 1553.7 L4325.4 1549 L4354.1 1544.2 L4382.8 1539.2 L4411.5 1534.2 L4440.2 1528.9 L4468.9 1523.6 L4497.6 1518.1 L4526.3 1512.4 L4555 1506.6 L4583.7 1500.7 L4612.4 1494.6 L4641.1 1488.4 L4669.8 1482 L4698.5 1475.4 L4727.2 1468.7 L4755.9 1461.8 L4755.9 1836.7 L4727.2 1836 L4698.5 1835.4 L4669.8 1834.9 L4641.1 1834.5 L4612.4 1834.1 L4583.7 1833.8 L4555 1833.6 L4526.3 1833.4 L4497.6 1833.3 L4468.9 1833.2 L4440.2 1833.2 L4411.5 1833.1 L4382.8 1833.2 L4354.1 1833.2 L4325.4 1833.2 L4296.7 1833.3 L4268 1833.4 L4239.3 1833.4 L4210.6 1833.5 L4182 1833.5 L4153.3 1833.5 L4124.6 1833.5 L4095.9 1833.5 L4067.2 1833.4 L4038.5 1833.3 L4009.8 1833.2 L3981.1 1833 L3952.4 1832.7 L3923.7 1832.4 L3895 1832 L3866.3 1831.6 L3837.6 1831 L3808.9 1830.4 L3780.2 1829.7 L3751.5 1828.9 L3722.8 1828 L3694.1 1827 L3665.4 1825.9 L3636.7 1824.6 L3608 1823.3 L3579.3 1821.8 L3550.6 1820.2 L3521.9 1818.5 L3493.2 1816.7 L3464.5 1814.8 L3435.8 1812.9 L3407.1 1810.8 L3378.4 1808.6 L3349.7 1806.3 L3321 1803.9 L3292.3 1801.5 L3263.6 1798.9 L3234.9 1796.3 L3206.2 1793.6 L3177.5 1790.8 L3148.8 1787.9 L3120.1 1785 L3091.5 1781.9 L3062.8 1778.9 L3034.1 1775.7 L3005.4 1772.5 L2976.7 1769.3 L2948 1766.1 L2919.3 1762.8 L2890.6 1759.5 L2861.9 1756.2 L2833.2 1752.9 L2804.5 1749.7 L2775.8 1746.5 L2747.1 1743.3 L2718.4 1740.1 L2689.7 1737 L2661 1734 L2632.3 1731 L2603.6 1728.2 L2574.9 1725.4 L2546.2 1722.7Z" fill="#B3CDE3" fill-opacity="0.25"/>
<path d="M2611.7 1391.8 L2640.6 1396.7 L2669.5 1401.1 L2698.5 1405 L2727.4 1408.6 L2756.3 1411.7 L2785.2 1414.4 L2814.1 1416.8 L2843.1 1418.7 L2872 1420.4 L2900.9 1421.6 L2929.8 1422.6 L2958.7 1423.2 L2987.7 1423.6 L3016.6 1423.7 L3045.5 1423.5 L3074.4 1423 L3103.3 1422.4 L3132.3 1421.5 L3161.2 1420.4 L3190.1 1419.1 L3219 1417.6 L3248 1416 L3276.9 1414.2 L3305.8 1412.3 L3334.7 1410.3 L3363.6 1408.2 L3392.6 1406 L3421.5 1403.7 L3450.4 1401.4 L3479.3 1399 L3508.2 1396.6 L3537.2 1394.2 L3566.1 1391.8 L3595 1389.4 L3595 1677.5 L3566.1 1675.3 L3537.2 1672.9 L3508.2 1670.3 L3479.3 1667.4 L3450.4 1664.4 L3421.5 1661.1 L3392.6 1657.7 L3363.6 1654.1 L3334.7 1650.4 L3305.8 1646.5 L3276.9 1642.5 L3248 1638.5 L3219 1634.3 L3190.1 1630.1 L3161.2 1625.9 L3132.3 1621.6 L3103.3 1617.2 L3074.4 1612.9 L3045.5 1608.6 L3016.6 1604.3 L2987.7 1599.9 L2958.7 1595.6 L2929.8 1591.3 L2900.9 1587 L2872 1582.7 L2843.1 1578.5 L2814.1 1574.2 L2785.2 1570 L2756.3 1565.8 L2727.4 1561.6 L2698.5 1557.5 L2669.5 1553.4 L2640.6 1549.3 L2611.7 1545.3Z" fill="#1F78B4" fill-opacity="0.25"/>
<path d="M2546.2 1677.8 L2574.9 1680.9 L2603.6 1683.9 L2632.3 1686.8 L2661 1689.7 L2689.7 1692.5 L2718.4 1695.1 L2747.1 1697.8 L2775.8 1700.3 L2804.5 1702.7 L2833.2 1705.1 L2861.9 1707.4 L2890.6 1709.6 L2919.3 1711.7 L2948 1713.8 L2976.7 1715.7 L3005.4 1717.6 L3034.1 1719.4 L3062.8 1721.1 L3091.5 1722.8 L3120.1 1724.3 L3148.8 1725.8 L3177.5 1727.1 L3206.2 1728.4 L3234.9 1729.6 L3263.6 1730.8 L3292.3 1731.8 L3321 1732.7 L3349.7 1733.6 L3378.4 1734.4 L3407.1 1735.1 L3435.8 1735.7 L3464.5 1736.2 L3493.2 1736.6 L3521.9 1736.9 L3550.6 1737.2 L3579.3 1737.3 L3608 1737.4 L3636.7 1737.4 L3665.4 1737.3 L3694.1 1737.1 L3722.8 1736.8 L3751.5 1736.4 L3780.2 1735.9 L3808.9 1735.4 L3837.6 1734.7 L3866.3 1734 L3895 1733.2 L3923.7 1732.4 L3952.4 1731.4 L3981.1 1730.4 L4009.8 1729.4 L4038.5 1728.2 L4067.2 1727 L4095.9 1725.7 L4124.6 1724.4 L4153.3 1723 L4182 1721.5 L4210.6 1720 L4239.3 1718.4 L4268 1716.8 L4296.7 1715.1 L4325.4 1713.3 L4354.1 1711.5 L4382.8 1709.7 L4411.5 1707.8 L4440.2 1705.9 L4468.9 1703.9 L4497.6 1701.9 L4526.3 1699.9 L4555 1697.8 L4583.7 1695.7 L4612.4 1693.6 L4641.1 1691.4 L4669.8 1689.2 L4698.5 1686.9 L4727.2 1684.7 L4755.9 1682.4" fill="none" stroke="#B3CDE3" stroke-width="10.7" stroke-linejoin="round"/>
<path d="M2611.7 1472.6 L2640.6 1476.6 L2669.5 1480.5 L2698.5 1484.2 L2727.4 1487.9 L2756.3 1491.5 L2785.2 1495 L2814.1 1498.4 L2843.1 1501.7 L2872 1504.9 L2900.9 1508 L2929.8 1511 L2958.7 1513.9 L2987.7 1516.7 L3016.6 1519.3 L3045.5 1521.9 L3074.4 1524.4 L3103.3 1526.7 L3132.3 1529 L3161.2 1531.1 L3190.1 1533.2 L3219 1535.1 L3248 1536.9 L3276.9 1538.6 L3305.8 1540.2 L3334.7 1541.7 L3363.6 1543.1 L3392.6 1544.3 L3421.5 1545.5 L3450.4 1546.5 L3479.3 1547.4 L3508.2 1548.2 L3537.2 1548.9 L3566.1 1549.4 L3595 1549.9" fill="none" stroke="#1F78B4" stroke-width="10.7" stroke-linejoin="round"/>
<rect x="3561.2" y="1270.3" width="72" height="144" fill="#fff"/>
<circle cx="3597.2" cy="1306.3" r="10.25" fill="#B3CDE3" stroke="#B3CDE3" fill-opacity="0.4" stroke-opacity="0.4" stroke-width="3.0"/>
<path d="M3568.5 1306.3H3625.9" stroke="#B3CDE3" stroke-width="10.7"/>
<text class="le" x="3666.4" y="1324.1">Gjeller</text>
<circle cx="3597.2" cy="1378.3" r="10.25" fill="#1F78B4" stroke="#1F78B4" fill-opacity="0.4" stroke-opacity="0.4" stroke-width="3.0"/>
<path d="M3568.5 1378.3H3625.9" stroke="#1F78B4" stroke-width="10.7"/>
<text class="le" x="3666.4" y="1396.1">Hele kroppen</text>
<text class="lt" x="3561.2" y="1231">Vev</text>
<text class="an" x="4008.8" y="1237.9">Forklart variasjon = 63.4%</text>
<text class="an" text-anchor="end" x="4741.6" y="1323.7">p = 0.298</text>
</g>
<rect x="2536.9" y="1160" width="2228.3" height="707.2" fill="none" stroke="#333333" stroke-width="3.4"/>
<path d="M2536.9 1729.8H2519M2536.9 1579.5H2519M2536.9 1429.2H2519M2536.9 1278.9H2519M2560.6 1867.2V1885.1M2930 1867.2V1885.1M3299.5 1867.2V1885.1M3668.9 1867.2V1885.1M4038.4 1867.2V1885.1M4407.9 1867.2V1885.1" stroke="#333333" stroke-width="6.1" fill="none"/>
<g class="tk" text-anchor="end"><text x="2505.1" y="1748.9">3</text><text x="2505.1" y="1598.6">4</text><text x="2505.1" y="1448.3">5</text><text x="2505.1" y="1298">6</text></g>
<g class="tk" text-anchor="middle"><text x="2560.6" y="1936.8">150</text><text x="2930" y="1936.8">200</text><text x="3299.5" y="1936.8">250</text><text x="3668.9" y="1936.8">300</text><text x="4038.4" y="1936.8">350</text><text x="4407.9" y="1936.8">400</text></g>
<text class="ax" text-anchor="middle" x="3651.1" y="2014.2">Dybde (m)</text>
<text class="tg" x="2462.2" y="1093.5">D</text>
</g>
<g id="panelE">
<clipPath id="cpE"><rect x="209.1" y="2097.2" width="2198.2" height="708.2"/></clipPath>
<g clip-path="url(#cpE)">
<path d="M209.1 2707.4H2407.3M209.1 2511.9H2407.3M209.1 2316.4H2407.3M209.1 2120.9H2407.3M486.5 2097.2V2805.4M1029.2 2097.2V2805.4M1571.9 2097.2V2805.4M2114.6 2097.2V2805.4" stroke="#EBEBEB" stroke-width="3.05" fill="none"/>
<path d="M209.1 2609.6H2407.3M209.1 2414.1H2407.3M209.1 2218.7H2407.3M215.1 2097.2V2805.4M757.8 2097.2V2805.4M1300.5 2097.2V2805.4M1843.3 2097.2V2805.4M2386 2097.2V2805.4" stroke="#EBEBEB" stroke-width="6.1" fill="none"/>
<g fill="#666666" stroke="#666666" fill-opacity="0.4" stroke-opacity="0.4" stroke-width="3.0">
<circle cx="264.7" cy="2623" r="10.25"/><circle cx="264.7" cy="2660.3" r="10.25"/><circle cx="218.1" cy="2700.4" r="10.25"/><circle cx="224" cy="2709.9" r="10.25"/><circle cx="218.1" cy="2727.2" r="10.25"/><circle cx="224" cy="2737.6" r="10.25"/><circle cx="218.1" cy="2744.6" r="10.25"/><circle cx="1980.2" cy="2598.2" r="10.25"/><circle cx="2134.5" cy="2643.9" r="10.25"/><circle cx="2134.5" cy="2728.7" r="10.25"/><circle cx="2396.9" cy="2693.5" r="10.25"/><circle cx="2396.9" cy="2707.9" r="10.25"/>
</g>
<path d="M218.1 2683.7 L246.8 2681.4 L275.5 2679 L304.1 2676.5 L332.8 2673.8 L361.5 2671.1 L390.2 2668.2 L418.9 2665.3 L447.6 2662.2 L476.2 2659 L504.9 2655.7 L533.6 2652.3 L562.3 2648.8 L591 2645.1 L619.6 2641.4 L648.3 2637.5 L677 2633.5 L705.7 2629.4 L734.4 2625.2 L763.1 2620.8 L791.7 2616.3 L820.4 2611.7 L849.1 2607 L877.8 2602.1 L906.5 2597.1 L935.1 2592 L963.8 2586.7 L992.5 2581.3 L1021.2 2575.8 L1049.9 2570.1 L1078.5 2564.3 L1107.2 2558.4 L1135.9 2552.3 L1164.6 2546.1 L1193.3 2539.7 L1222 2533.2 L1250.6 2526.6 L1279.3 2519.8 L1308 2512.9 L1336.7 2505.8 L1365.4 2498.6 L1394 2491.2 L1422.7 2483.6 L1451.4 2476 L1480.1 2468.1 L1508.8 2460.1 L1537.5 2452 L1566.1 2443.7 L1594.8 2435.2 L1623.5 2426.6 L1652.2 2417.8 L1680.9 2408.8 L1709.5 2399.7 L1738.2 2390.5 L1766.9 2381 L1795.6 2371.4 L1824.3 2361.6 L1853 2351.7 L1881.6 2341.6 L1910.3 2331.3 L1939 2320.9 L1967.7 2310.2 L1996.4 2299.4 L2025 2288.4 L2053.7 2277.3 L2082.4 2265.9 L2111.1 2254.4 L2139.8 2242.7 L2168.4 2230.8 L2197.1 2218.8 L2225.8 2206.5 L2254.5 2194.1 L2283.2 2181.5 L2311.9 2168.7 L2340.5 2155.7 L2369.2 2142.5 L2397.9 2129.1 L2397.9 2605.4 L2369.2 2607.3 L2340.5 2609.1 L2311.9 2610.9 L2283.2 2612.7 L2254.5 2614.6 L2225.8 2616.4 L2197.1 2618.2 L2168.4 2620 L2139.8 2621.9 L2111.1 2623.7 L2082.4 2625.5 L2053.7 2627.4 L2025 2629.2 L1996.4 2631 L1967.7 2632.9 L1939 2634.7 L1910.3 2636.6 L1881.6 2638.4 L1853 2640.3 L1824.3 2642.2 L1795.6 2644.1 L1766.9 2646 L1738.2 2647.9 L1709.5 2649.8 L1680.9 2651.7 L1652.2 2653.6 L1623.5 2655.6 L1594.8 2657.5 L1566.1 2659.5 L1537.5 2661.4 L1508.8 2663.4 L1480.1 2665.4 L1451.4 2667.4 L1422.7 2669.5 L1394 2671.5 L1365.4 2673.6 L1336.7 2675.7 L1308 2677.7 L1279.3 2679.9 L1250.6 2682 L1222 2684.1 L1193.3 2686.3 L1164.6 2688.5 L1135.9 2690.7 L1107.2 2692.9 L1078.5 2695.1 L1049.9 2697.4 L1021.2 2699.7 L992.5 2702 L963.8 2704.3 L935.1 2706.6 L906.5 2709 L877.8 2711.4 L849.1 2713.8 L820.4 2716.3 L791.7 2718.8 L763.1 2721.3 L734.4 2723.8 L705.7 2726.3 L677 2728.9 L648.3 2731.5 L619.6 2734.2 L591 2736.8 L562.3 2739.5 L533.6 2742.3 L504.9 2745 L476.2 2747.8 L447.6 2750.6 L418.9 2753.5 L390.2 2756.4 L361.5 2759.3 L332.8 2762.3 L304.1 2765.2 L275.5 2768.3 L246.8 2771.3 L218.1 2774.4Z" fill="#E41A1C" fill-opacity="0.25"/>
<path d="M218.1 2733.8 L246.8 2730.7 L275.5 2727.6 L304.1 2724.6 L332.8 2721.5 L361.5 2718.4 L390.2 2715.3 L418.9 2712.2 L447.6 2709.1 L476.2 2706 L504.9 2702.8 L533.6 2699.7 L562.3 2696.5 L591 2693.3 L619.6 2690.1 L648.3 2686.9 L677 2683.6 L705.7 2680.4 L734.4 2677.1 L763.1 2673.8 L791.7 2670.4 L820.4 2667 L849.1 2663.6 L877.8 2660.2 L906.5 2656.7 L935.1 2653.2 L963.8 2649.7 L992.5 2646.2 L1021.2 2642.6 L1049.9 2638.9 L1078.5 2635.2 L1107.2 2631.5 L1135.9 2627.8 L1164.6 2624 L1193.3 2620.1 L1222 2616.2 L1250.6 2612.3 L1279.3 2608.3 L1308 2604.2 L1336.7 2600.2 L1365.4 2596 L1394 2591.8 L1422.7 2587.6 L1451.4 2583.3 L1480.1 2578.9 L1508.8 2574.5 L1537.5 2570.1 L1566.1 2565.6 L1594.8 2561 L1623.5 2556.4 L1652.2 2551.7 L1680.9 2547 L1709.5 2542.2 L1738.2 2537.3 L1766.9 2532.4 L1795.6 2527.4 L1824.3 2522.4 L1853 2517.3 L1881.6 2512.2 L1910.3 2507 L1939 2501.7 L1967.7 2496.4 L1996.4 2491 L2025 2485.6 L2053.7 2480.2 L2082.4 2474.7 L2111.1 2469.2 L2139.8 2463.7 L2168.4 2458.1 L2197.1 2452.5 L2225.8 2446.9 L2254.5 2441.3 L2283.2 2435.6 L2311.9 2429.9 L2340.5 2424.3 L2369.2 2418.6 L2397.9 2412.9" fill="none" stroke="#E41A1C" stroke-width="10.7" stroke-linejoin="round"/>
<text class="an" x="1650.9" y="2175.1">Forklart variasjon = 65.8%</text>
<text class="an" text-anchor="end" x="2383.7" y="2260.9">p = 0.011</text>
</g>
<rect x="209.1" y="2097.2" width="2198.2" height="708.2" fill="none" stroke="#333333" stroke-width="3.4"/>
<path d="M209.1 2805.1H191.2M209.1 2609.6H191.2M209.1 2414.1H191.2M209.1 2218.7H191.2M215.1 2805.4V2823.3M757.8 2805.4V2823.3M1300.5 2805.4V2823.3M1843.3 2805.4V2823.3M2386 2805.4V2823.3" stroke="#333333" stroke-width="6.1" fill="none"/>
<g class="tk" text-anchor="end"><text x="177.3" y="2824.2">4</text><text x="177.3" y="2628.7">8</text><text x="177.3" y="2433.2">12</text><text x="177.3" y="2237.8">16</text></g>
<g class="tk" text-anchor="middle"><text x="215.1" y="2875">0</text><text x="757.8" y="2875">400</text><text x="1300.5" y="2875">800</text><text x="1843.3" y="2875">1200</text><text x="2386" y="2875">1600</text></g>
<text class="ax" text-anchor="middle" x="1308.2" y="2952.4">Akkumulert sedimentasjon (g·m<tspan font-family="DejaVu Sans, sans-serif" font-size="58" dy="-5" dx="1.5">⁻²</tspan><tspan dy="5" dx="2">)</tspan></text>
<text class="tg" x="105" y="2030.7">E</text>
</g>
<g id="panelF">
<clipPath id="cpF"><rect x="2537.1" y="2097.2" width="2228.1" height="708.2"/></clipPath>
<g clip-path="url(#cpF)">
<path d="M2537.1 2752.5H4765.2M2537.1 2599.7H4765.2M2537.1 2446.9H4765.2M2537.1 2294.1H4765.2M2537.1 2141.3H4765.2M2811.7 2097.2V2805.4M3342.7 2097.2V2805.4M3873.7 2097.2V2805.4M4404.7 2097.2V2805.4" stroke="#EBEBEB" stroke-width="3.05" fill="none"/>
<path d="M2537.1 2676.1H4765.2M2537.1 2523.3H4765.2M2537.1 2370.5H4765.2M2537.1 2217.7H4765.2M2546.2 2097.2V2805.4M3077.2 2097.2V2805.4M3608.2 2097.2V2805.4M4139.2 2097.2V2805.4M4670.2 2097.2V2805.4" stroke="#EBEBEB" stroke-width="6.1" fill="none"/>
<g fill="#B3CDE3" stroke="#B3CDE3" fill-opacity="0.4" stroke-opacity="0.4" stroke-width="3.0">
<circle cx="2658.4" cy="2554.1" r="10.25"/><circle cx="2549.2" cy="2604.2" r="10.25"/><circle cx="2751.1" cy="2625.5" r="10.25"/><circle cx="2751.1" cy="2638.9" r="10.25"/><circle cx="2658.4" cy="2639.4" r="10.25"/><circle cx="2658.4" cy="2654.8" r="10.25"/><circle cx="2610.2" cy="2665.2" r="10.25"/><circle cx="2610.2" cy="2673.7" r="10.25"/><circle cx="2610.2" cy="2679.1" r="10.25"/><circle cx="2591.4" cy="2674.6" r="10.25"/><circle cx="2546.2" cy="2681.6" r="10.25"/><circle cx="2591.4" cy="2700.9" r="10.25"/><circle cx="2692.6" cy="2726.7" r="10.25"/><circle cx="2546.2" cy="2774.4" r="10.25"/><circle cx="3236.3" cy="2621.6" r="10.25"/><circle cx="3399.5" cy="2593.8" r="10.25"/><circle cx="3399.5" cy="2634.5" r="10.25"/><circle cx="3296.3" cy="2680.1" r="10.25"/><circle cx="3296.3" cy="2682.6" r="10.25"/><circle cx="3321.1" cy="2753" r="10.25"/><circle cx="4081.2" cy="2508.5" r="10.25"/><circle cx="4081.2" cy="2553.1" r="10.25"/><circle cx="4754.9" cy="2423.1" r="10.25"/><circle cx="4754.9" cy="2549.6" r="10.25"/><circle cx="4754.9" cy="2591.3" r="10.25"/>
</g>
<g fill="#1F78B4" stroke="#1F78B4" fill-opacity="0.4" stroke-opacity="0.4" stroke-width="3.0">
<circle cx="2692.6" cy="2127.5" r="10.25"/><circle cx="2692.6" cy="2214.8" r="10.25"/><circle cx="2546.2" cy="2431.1" r="10.25"/><circle cx="2617.7" cy="2426.6" r="10.25"/><circle cx="2617.7" cy="2456.9" r="10.25"/><circle cx="2692.6" cy="2575.9" r="10.25"/><circle cx="2546.2" cy="2600.7" r="10.25"/><circle cx="2546.2" cy="2656.8" r="10.25"/><circle cx="3292.8" cy="2508.5" r="10.25"/><circle cx="3321.1" cy="2501.5" r="10.25"/><circle cx="3321.1" cy="2571" r="10.25"/>
</g>
<path d="M2546.2 2574.2 L2574.9 2580.6 L2603.6 2586.5 L2632.3 2591.9 L2661 2596.8 L2689.7 2601.3 L2718.4 2605.2 L2747.1 2608.7 L2775.8 2611.7 L2804.5 2614.3 L2833.2 2616.5 L2861.9 2618.2 L2890.6 2619.5 L2919.3 2620.3 L2948 2620.7 L2976.7 2620.8 L3005.4 2620.4 L3034.1 2619.7 L3062.8 2618.5 L3091.5 2617 L3120.1 2615.1 L3148.8 2612.9 L3177.5 2610.5 L3206.2 2607.7 L3234.9 2604.8 L3263.6 2601.6 L3292.3 2598.3 L3321 2594.9 L3349.7 2591.3 L3378.4 2587.8 L3407.1 2584.1 L3435.8 2580.4 L3464.5 2576.6 L3493.2 2572.7 L3521.9 2568.7 L3550.6 2564.7 L3579.3 2560.6 L3608 2556.5 L3636.7 2552.2 L3665.4 2547.9 L3694.1 2543.5 L3722.8 2539 L3751.5 2534.4 L3780.2 2529.8 L3808.9 2525 L3837.6 2520.2 L3866.3 2515.3 L3895 2510.3 L3923.7 2505.2 L3952.4 2500 L3981.1 2494.7 L4009.8 2489.3 L4038.5 2483.7 L4067.2 2478 L4095.9 2472.2 L4124.6 2466.2 L4153.3 2460.1 L4182 2453.8 L4210.6 2447.3 L4239.3 2440.6 L4268 2433.8 L4296.7 2426.7 L4325.4 2419.4 L4354.1 2411.9 L4382.8 2404.2 L4411.5 2396.3 L4440.2 2388.1 L4468.9 2379.7 L4497.6 2371 L4526.3 2362 L4555 2352.8 L4583.7 2343.3 L4612.4 2333.5 L4641.1 2323.4 L4669.8 2313 L4698.5 2302.3 L4727.2 2291.2 L4755.9 2279.8 L4755.9 2621.1 L4727.2 2624 L4698.5 2627 L4669.8 2630 L4641.1 2633 L4612.4 2636 L4583.7 2639.1 L4555 2642.2 L4526.3 2645.3 L4497.6 2648.4 L4468.9 2651.4 L4440.2 2654.5 L4411.5 2657.6 L4382.8 2660.7 L4354.1 2663.8 L4325.4 2666.8 L4296.7 2669.8 L4268 2672.8 L4239.3 2675.7 L4210.6 2678.6 L4182 2681.4 L4153.3 2684.2 L4124.6 2686.9 L4095.9 2689.6 L4067.2 2692.2 L4038.5 2694.7 L4009.8 2697.1 L3981.1 2699.5 L3952.4 2701.8 L3923.7 2703.9 L3895 2706 L3866.3 2708 L3837.6 2709.9 L3808.9 2711.6 L3780.2 2713.2 L3751.5 2714.7 L3722.8 2716 L3694.1 2717.1 L3665.4 2718.1 L3636.7 2718.8 L3608 2719.4 L3579.3 2719.7 L3550.6 2719.9 L3521.9 2719.8 L3493.2 2719.5 L3464.5 2719.1 L3435.8 2718.4 L3407.1 2717.6 L3378.4 2716.6 L3349.7 2715.4 L3321 2714.1 L3292.3 2712.6 L3263.6 2711 L3234.9 2709.3 L3206.2 2707.5 L3177.5 2705.7 L3148.8 2703.9 L3120.1 2702 L3091.5 2700.2 L3062.8 2698.5 L3034.1 2696.8 L3005.4 2695.2 L2976.7 2693.8 L2948 2692.5 L2919.3 2691.3 L2890.6 2690.4 L2861.9 2689.7 L2833.2 2689.2 L2804.5 2689 L2775.8 2689.1 L2747.1 2689.5 L2718.4 2690.3 L2689.7 2691.4 L2661 2692.9 L2632.3 2694.8 L2603.6 2697.2 L2574.9 2700 L2546.2 2703.3Z" fill="#B3CDE3" fill-opacity="0.25"/>
<path d="M2546.2 2321.8 L2576 2330.9 L2605.8 2339.3 L2635.6 2346.9 L2665.4 2353.7 L2695.2 2359.8 L2725 2365.2 L2754.8 2369.9 L2784.6 2373.9 L2814.4 2377.2 L2844.2 2379.9 L2874 2381.9 L2903.8 2383.3 L2933.6 2384.1 L2963.5 2384.3 L2993.3 2383.9 L3023.1 2383 L3052.9 2381.5 L3082.7 2379.5 L3112.5 2377 L3142.3 2374 L3172.1 2370.6 L3201.9 2366.9 L3231.7 2362.8 L3261.5 2358.4 L3291.3 2353.7 L3321.1 2348.8 L3321.1 2545.3 L3291.3 2543 L3261.5 2540.6 L3231.7 2538.1 L3201.9 2535.5 L3172.1 2532.8 L3142.3 2530.2 L3112.5 2527.5 L3082.7 2525 L3052.9 2522.5 L3023.1 2520.1 L2993.3 2517.9 L2963.5 2515.9 L2933.6 2514.1 L2903.8 2512.6 L2874 2511.4 L2844.2 2510.5 L2814.4 2510 L2784.6 2509.9 L2754.8 2510.2 L2725 2510.9 L2695.2 2512.2 L2665.4 2514 L2635.6 2516.4 L2605.8 2519.4 L2576 2523 L2546.2 2527.4Z" fill="#1F78B4" fill-opacity="0.25"/>
<path d="M2546.2 2642.7 L2574.9 2644.1 L2603.6 2645.5 L2632.3 2646.8 L2661 2648.1 L2689.7 2649.3 L2718.4 2650.5 L2747.1 2651.7 L2775.8 2652.8 L2804.5 2653.8 L2833.2 2654.7 L2861.9 2655.6 L2890.6 2656.4 L2919.3 2657.2 L2948 2657.8 L2976.7 2658.4 L3005.4 2658.9 L3034.1 2659.3 L3062.8 2659.6 L3091.5 2659.8 L3120.1 2660 L3148.8 2660 L3177.5 2659.9 L3206.2 2659.7 L3234.9 2659.3 L3263.6 2658.9 L3292.3 2658.3 L3321 2657.6 L3349.7 2656.8 L3378.4 2655.8 L3407.1 2654.8 L3435.8 2653.6 L3464.5 2652.2 L3493.2 2650.8 L3521.9 2649.2 L3550.6 2647.6 L3579.3 2645.8 L3608 2643.9 L3636.7 2642 L3665.4 2639.9 L3694.1 2637.8 L3722.8 2635.5 L3751.5 2633.1 L3780.2 2630.6 L3808.9 2627.9 L3837.6 2625.2 L3866.3 2622.2 L3895 2619.2 L3923.7 2616 L3952.4 2612.7 L3981.1 2609.2 L4009.8 2605.6 L4038.5 2601.9 L4067.2 2598 L4095.9 2594 L4124.6 2589.9 L4153.3 2585.6 L4182 2581.2 L4210.6 2576.7 L4239.3 2572.1 L4268 2567.3 L4296.7 2562.5 L4325.4 2557.5 L4354.1 2552.4 L4382.8 2547.1 L4411.5 2541.8 L4440.2 2536.3 L4468.9 2530.8 L4497.6 2525.1 L4526.3 2519.4 L4555 2513.5 L4583.7 2507.6 L4612.4 2501.7 L4641.1 2495.7 L4669.8 2489.6 L4698.5 2483.6 L4727.2 2477.5 L4755.9 2471.3" fill="none" stroke="#B3CDE3" stroke-width="10.7" stroke-linejoin="round"/>
<path d="M2546.2 2432.1 L2576 2433.8 L2605.8 2435.6 L2635.6 2437.4 L2665.4 2439.1 L2695.2 2440.9 L2725 2442.6 L2754.8 2444.2 L2784.6 2445.8 L2814.4 2447.4 L2844.2 2448.8 L2874 2450.2 L2903.8 2451.5 L2933.6 2452.7 L2963.5 2453.8 L2993.3 2454.8 L3023.1 2455.6 L3052.9 2456.3 L3082.7 2456.8 L3112.5 2457.2 L3142.3 2457.5 L3172.1 2457.5 L3201.9 2457.4 L3231.7 2457 L3261.5 2456.5 L3291.3 2455.7 L3321.1 2454.7" fill="none" stroke="#1F78B4" stroke-width="10.7" stroke-linejoin="round"/>
<rect x="3561.4" y="2207.5" width="72" height="144" fill="#fff"/>
<circle cx="3597.4" cy="2243.5" r="10.25" fill="#B3CDE3" stroke="#B3CDE3" fill-opacity="0.4" stroke-opacity="0.4" stroke-width="3.0"/>
<path d="M3568.7 2243.5H3626.1" stroke="#B3CDE3" stroke-width="10.7"/>
<text class="le" x="3666.6" y="2261.3">Gjeller</text>
<circle cx="3597.4" cy="2315.5" r="10.25" fill="#1F78B4" stroke="#1F78B4" fill-opacity="0.4" stroke-opacity="0.4" stroke-width="3.0"/>
<path d="M3568.7 2315.5H3626.1" stroke="#1F78B4" stroke-width="10.7"/>
<text class="le" x="3666.6" y="2333.3">Hele kroppen</text>
<text class="lt" x="3561.4" y="2168.2">Vev</text>
<text class="an" x="4008.8" y="2175.1">Forklart variasjon = 63.4%</text>
<text class="an" text-anchor="end" x="4741.6" y="2260.9">p = 0.023</text>
</g>
<rect x="2537.1" y="2097.2" width="2228.1" height="708.2" fill="none" stroke="#333333" stroke-width="3.4"/>
<path d="M2537.1 2676.1H2519.2M2537.1 2523.3H2519.2M2537.1 2370.5H2519.2M2537.1 2217.7H2519.2M2546.2 2805.4V2823.3M3077.2 2805.4V2823.3M3608.2 2805.4V2823.3M4139.2 2805.4V2823.3M4670.2 2805.4V2823.3" stroke="#333333" stroke-width="6.1" fill="none"/>
<g class="tk" text-anchor="end"><text x="2505.3" y="2695.2">3</text><text x="2505.3" y="2542.4">4</text><text x="2505.3" y="2389.6">5</text><text x="2505.3" y="2236.8">6</text></g>
<g class="tk" text-anchor="middle"><text x="2546.2" y="2875">0</text><text x="3077.2" y="2875">1000</text><text x="3608.2" y="2875">2000</text><text x="4139.2" y="2875">3000</text><text x="4670.2" y="2875">4000</text></g>
<text class="ax" text-anchor="middle" x="3651.1" y="2952.4">Akkumulert sedimentasjon (g·m<tspan font-family="DejaVu Sans, sans-serif" font-size="58" dy="-5" dx="1.5">⁻²</tspan><tspan dy="5" dx="2">)</tspan></text>
<text class="tg" x="2462.2" y="2030.7">F</text>
</g>
<text class="ti" text-anchor="middle" x="1263.3" y="118.8">Sjøtre</text>
<text class="ti" text-anchor="middle" x="3620.9" y="118.8">Bergskjell</text>
<text text-anchor="middle" font-size="75" fill="#000" transform="translate(96.3 1500) rotate(-90)">Terrestriske fettsyremarkører (%)</text>
</svg></body></html>
